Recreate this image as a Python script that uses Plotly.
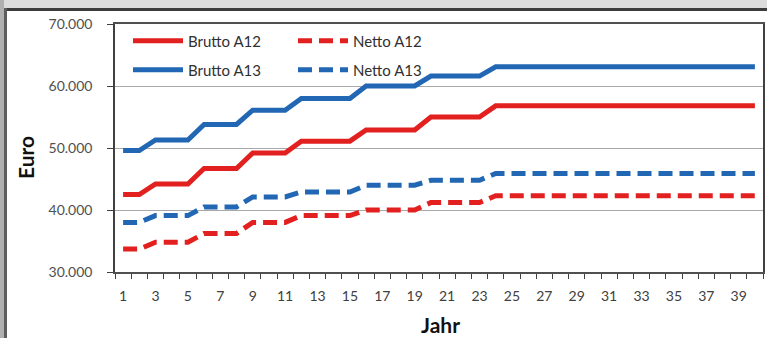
import plotly.graph_objects as go

# Jahr der Dienstzeit (1..40)
years = list(range(1, 41))

# Jahresbezüge in Euro
brutto_a12 = [42500, 42500,
              44200, 44200, 44200,
              46700, 46700, 46700,
              49200, 49200, 49200,
              51100, 51100, 51100, 51100,
              52900, 52900, 52900, 52900,
              55000, 55000, 55000, 55000,
              56800, 56800, 56800, 56800, 56800, 56800, 56800, 56800, 56800,
              56800, 56800, 56800, 56800, 56800, 56800, 56800, 56800]
netto_a12 = [33700, 33700,
             34800, 34800, 34800,
             36200, 36200, 36200,
             38000, 38000, 38000,
             39100, 39100, 39100, 39100,
             40000, 40000, 40000, 40000,
             41200, 41200, 41200, 41200,
             42300, 42300, 42300, 42300, 42300, 42300, 42300, 42300, 42300,
             42300, 42300, 42300, 42300, 42300, 42300, 42300, 42300]
brutto_a13 = [49600, 49600,
              51300, 51300, 51300,
              53800, 53800, 53800,
              56100, 56100, 56100,
              58000, 58000, 58000, 58000,
              60000, 60000, 60000, 60000,
              61600, 61600, 61600, 61600,
              63100, 63100, 63100, 63100, 63100, 63100, 63100, 63100, 63100,
              63100, 63100, 63100, 63100, 63100, 63100, 63100, 63100]
netto_a13 = [38000, 38000,
             39100, 39100, 39100,
             40500, 40500, 40500,
             42100, 42100, 42100,
             42900, 42900, 42900, 42900,
             44000, 44000, 44000, 44000,
             44800, 44800, 44800, 44800,
             45900, 45900, 45900, 45900, 45900, 45900, 45900, 45900, 45900,
             45900, 45900, 45900, 45900, 45900, 45900, 45900, 45900]

x_ticks = list(range(1, 40, 2))
y_ticks = [30000, 40000, 50000, 60000, 70000]

RED = "#E2201F"
BLUE = "#2267B3"
FONT = "Lato"

W, H = 767, 338
L, R, T, B = 115, 4, 24, 66
PW, PH = W - L - R, H - T - B


def px_x(px):
    return (px - L) / PW


def px_y(py):
    return (H - B - py) / PH


series = [
    ("Brutto A12", brutto_a12, RED, "solid", "legend", 41, 128),
    ("Netto A12", netto_a12, RED, "14px,7px", "legend2", 41, 293),
    ("Brutto A13", brutto_a13, BLUE, "solid", "legend3", 70, 128),
    ("Netto A13", netto_a13, BLUE, "14px,7px", "legend4", 70, 293),
]

fig = go.Figure()
legends = {}
for name, vals, color, dash, lg, ly, lx in series:
    fig.add_trace(go.Scatter(
        x=years, y=vals, name=name, mode="lines",
        line=dict(color=color, width=5, dash=dash),
        legend=lg,
    ))
    legends[lg] = dict(
        x=px_x(lx), y=px_y(ly), xanchor="left", yanchor="middle",
        bgcolor="rgba(0,0,0,0)", borderwidth=0, itemwidth=50,
        font=dict(family=FONT, size=15, color="#303030"),
    )

fig.update_layout(
    width=W, height=H,
    margin=dict(l=L, r=R, t=T, b=B),
    paper_bgcolor="white", plot_bgcolor="white",
    separators=",.",
    showlegend=True,
    font=dict(family=FONT, size=13, color="#505050"),
    **legends,
)

fig.update_xaxes(
    range=[0.5, 40.5],
    tickvals=x_ticks, ticktext=[str(v) for v in x_ticks],
    ticks="", ticklabelstandoff=10,
    tickfont=dict(family=FONT, size=14, color="#404040"),
    minor=dict(ticks="outside", tick0=0.5, dtick=1, ticklen=5,
               tickcolor="#404040", tickwidth=1),
    showgrid=False, zeroline=False, automargin=False,
    showline=True, linecolor="#505050", linewidth=1.5, mirror=True,
)
fig.update_yaxes(
    range=[30000, 70000],
    tickvals=y_ticks, tickformat=",d",
    ticks="outside", ticklen=6, tickcolor="#404040",
    ticklabelstandoff=12,
    tickfont=dict(family=FONT, size=14, color="#505050"),
    showgrid=True, gridcolor="#A8A8A8", gridwidth=1,
    zeroline=False, automargin=False,
    showline=True, linecolor="#404040", linewidth=1.5, mirror=True,
)

# axis titles
fig.add_annotation(text="<b>Euro</b>", textangle=-90,
                   x=px_x(25), y=px_y(158), xref="paper", yref="paper",
                   xanchor="center", yanchor="middle",
                   showarrow=False, font=dict(family=FONT, size=21, color="#111111"))
fig.add_annotation(text="<b>Jahr</b>",
                   x=px_x(440), y=px_y(324), xref="paper", yref="paper",
                   xanchor="center", yanchor="middle",
                   showarrow=False, font=dict(family=FONT, size=21, color="#111111"))

# window frame around the chart
fig.add_shape(type="rect", xref="paper", yref="paper",
              x0=px_x(0), x1=px_x(W), y0=px_y(9), y1=px_y(0),
              fillcolor="#DCDCDC", line_width=0, layer="below")
fig.add_shape(type="rect", xref="paper", yref="paper",
              x0=px_x(5), x1=px_x(W), y0=px_y(11), y1=px_y(8),
              fillcolor="#3C3C3C", line_width=0)
fig.add_shape(type="rect", xref="paper", yref="paper",
              x0=px_x(0), x1=px_x(4), y0=px_y(H), y1=px_y(0),
              fillcolor="#B0B0B0", line_width=0)
fig.add_shape(type="rect", xref="paper", yref="paper",
              x0=px_x(4), x1=px_x(7), y0=px_y(H), y1=px_y(8),
              fillcolor="#5E5E5E", line_width=0)

fig.write_html("out.html")
